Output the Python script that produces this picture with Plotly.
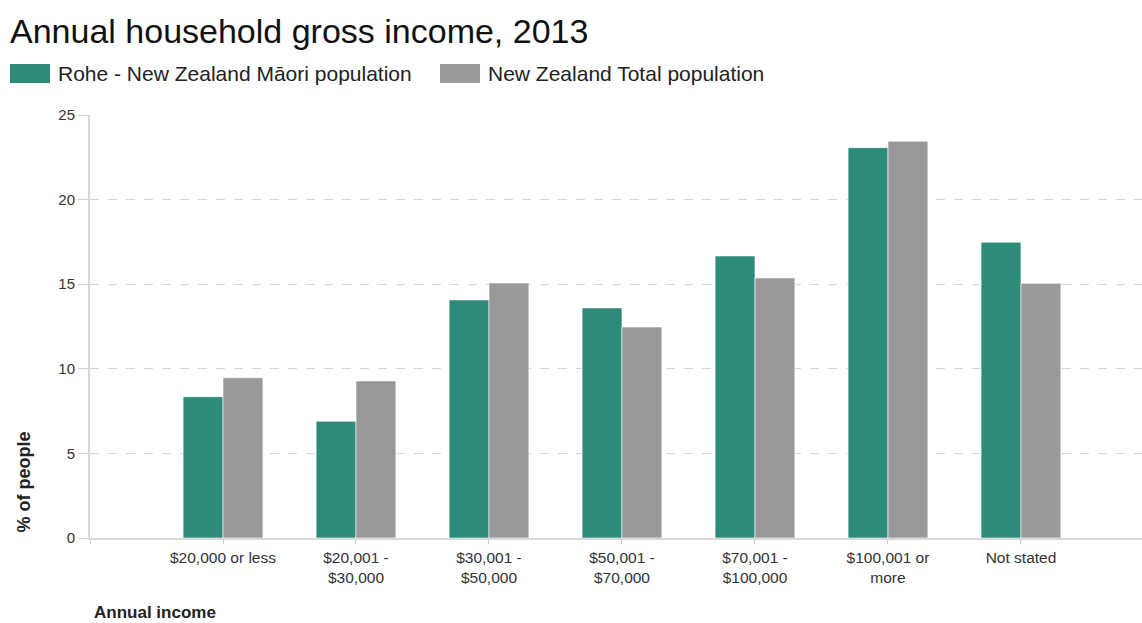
import plotly.graph_objects as go

categories = ["$20,000 or less", "$20,001 -<br>$30,000", "$30,001 -<br>$50,000",
              "$50,001 -<br>$70,000", "$70,001 -<br>$100,000", "$100,001 or<br>more", "Not stated"]
maori_name = "Rohe - New Zealand Māori population"
total_name = "New Zealand Total population"
maori_values = [8.35, 6.9, 14.07, 13.6, 16.67, 23.07, 17.48]
total_values = [9.47, 9.28, 15.07, 12.47, 15.37, 23.45, 15.05]
y_ticks = [0, 5, 10, 15, 20, 25]

TEAL = "#2E8B7A"
GRAY = "#999999"
FONT = "Liberation Sans, Arial, sans-serif"

W, H = 1142, 623
L, R, T, B = 90, 0, 115, 85
PW, PH = W - L - R, H - T - B

def px(x):
    return (x - L) / PW

def py(y):
    return (H - B - y) / PH

xpos = list(range(len(categories)))

fig = go.Figure()
fig.add_trace(go.Bar(x=xpos, y=maori_values, name=maori_name, marker_color=TEAL,
                     marker_line=dict(color="rgba(255,255,255,0.6)", width=1), showlegend=False))
fig.add_trace(go.Bar(x=xpos, y=total_values, name=total_name, marker_color=GRAY,
                     marker_line=dict(color="rgba(255,255,255,0.6)", width=1), showlegend=False))

shapes = []
annotations = []
# custom legend
legend_items = [(maori_name, TEAL, 10), (total_name, GRAY, 440)]
for name, color, x0 in legend_items:
    shapes.append(dict(type="rect", xref="paper", yref="paper",
                       x0=px(x0), x1=px(x0 + 40), y0=py(83), y1=py(64),
                       fillcolor=color, line=dict(width=0)))
    annotations.append(dict(text=name, xref="paper", yref="paper", x=px(x0 + 46), y=py(74),
                            xanchor="left", yanchor="middle", showarrow=False,
                            font=dict(family=FONT, size=21, color="#222")))

annotations.append(dict(text="<b>% of people</b>", xref="paper", yref="paper",
                        x=px(23), y=py(535), xanchor="center", yanchor="bottom",
                        textangle=-90, showarrow=False,
                        font=dict(family=FONT, size=18, color="#222")))
annotations.append(dict(text="<b>Annual income</b>", xref="paper", yref="paper",
                        x=px(92), y=py(612), xanchor="left", yanchor="middle",
                        showarrow=False, font=dict(family=FONT, size=17, color="#222")))

fig.update_layout(
    width=W, height=H,
    margin=dict(l=L, r=R, t=T, b=B),
    paper_bgcolor="white", plot_bgcolor="white",
    barmode="group", bargap=0.4, bargroupgap=0,
    title=dict(text="Annual household gross income, 2013", x=10 / W, xanchor="left",
               xref="container", yref="container", y=1 - 31 / H, yanchor="middle",
               font=dict(family=FONT, size=34, color="#111")),
    font=dict(family=FONT, size=15, color="#333"),
    shapes=shapes, annotations=annotations,
    xaxis=dict(range=[-1, 6.91], tickmode="array",
               tickvals=[-1] + xpos, ticktext=[""] + categories,
               ticks="outside", ticklen=4, tickcolor="#cccccc",
               showline=True, linecolor="#d9d9d9", linewidth=2,
               showgrid=False, zeroline=False, tickfont=dict(size=15.5, color="#333")),
    yaxis=dict(range=[0, 25], tickvals=y_ticks, ticks="outside", ticklen=10,
               tickcolor="#d0d0d0", showline=True, linecolor="#d9d9d9", linewidth=2,
               showgrid=True, gridcolor="#d6d6d6", griddash="dash", gridwidth=1,
               zeroline=False, tickfont=dict(size=15, color="#333")),
)

fig.write_html("out.html")
